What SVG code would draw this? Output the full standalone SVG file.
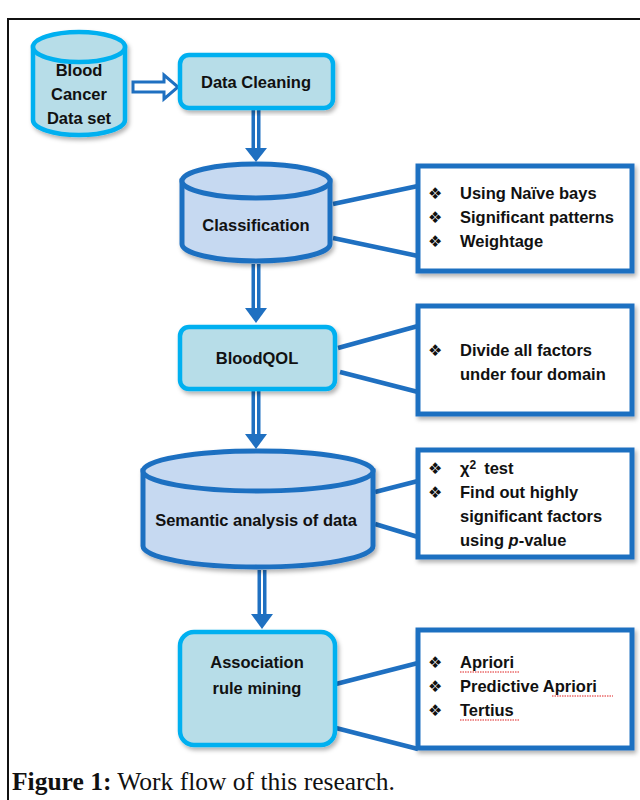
<svg xmlns="http://www.w3.org/2000/svg" width="640" height="800" viewBox="0 0 640 800">
<style>
.t{font-family:"Liberation Sans",Arial,sans-serif;font-weight:bold;font-size:16.5px;fill:#111;}
.c{text-anchor:middle;}
.b{font-family:"DejaVu Sans",sans-serif;font-size:16px;fill:#111;}
.cyan{fill:#b7dde8;stroke:#00b0f0;stroke-width:4.5;}
.cyl{fill:#c6d9f1;stroke:#1f70c1;stroke-width:5;}
.box{fill:#fff;stroke:#1f70c1;stroke-width:5;}
.ln{stroke:#1f70c1;stroke-width:4.5;fill:none;}
.sq{stroke:#e02020;stroke-width:1;fill:none;stroke-dasharray:1.5 1;}
.cap{font-family:"Liberation Serif","Times New Roman",serif;font-size:25.5px;fill:#111;}
</style>
<defs>
<filter id="sh" x="-10%" y="-10%" width="125%" height="125%">
<feDropShadow dx="2" dy="3" stdDeviation="2" flood-color="#000" flood-opacity="0.3"/>
</filter>
</defs>
<rect width="640" height="800" fill="#fff"/>
<path d="M8,800 L8,19 L640,19" fill="none" stroke="#111" stroke-width="2"/>

<g id="connectors">
<path d="M133,82 L164,82 L164,75 L178,87 L164,99 L164,92 L133,92 Z" fill="#fff" stroke="#1f70c1" stroke-width="3"/>
<g id="a1">
<rect x="251.5" y="108" width="9" height="42" fill="#1f70c1"/>
<line x1="256" y1="108" x2="256" y2="150" stroke="#fff" stroke-width="2"/>
<path d="M245,148 L267,148 L256,162 Z" fill="#1f70c1"/>
</g>
<g id="a2">
<rect x="251.5" y="264" width="9" height="46" fill="#1f70c1"/>
<line x1="256" y1="264" x2="256" y2="310" stroke="#fff" stroke-width="2"/>
<path d="M245,308 L267,308 L256,323 Z" fill="#1f70c1"/>
</g>
<g id="a3">
<rect x="251.5" y="390" width="9" height="46" fill="#1f70c1"/>
<line x1="256" y1="390" x2="256" y2="436" stroke="#fff" stroke-width="2"/>
<path d="M245,434 L267,434 L256,449 Z" fill="#1f70c1"/>
</g>
<g id="a4">
<rect x="257.5" y="570" width="9" height="46" fill="#1f70c1"/>
<line x1="262" y1="570" x2="262" y2="616" stroke="#fff" stroke-width="2"/>
<path d="M251,614 L273,614 L262,629 Z" fill="#1f70c1"/>
</g>
<line class="ln" x1="333" y1="204" x2="418" y2="186"/>
<line class="ln" x1="333" y1="238" x2="418" y2="256"/>
<line class="ln" x1="338" y1="348" x2="418" y2="326"/>
<line class="ln" x1="340" y1="372" x2="418" y2="392"/>
<line class="ln" x1="375" y1="492" x2="418" y2="481"/>
<line class="ln" x1="375" y1="524" x2="418" y2="537"/>
<line class="ln" x1="332" y1="685" x2="418" y2="663"/>
<line class="ln" x1="332" y1="727" x2="418" y2="749"/>
</g>

<g id="blood">
<g filter="url(#sh)">
<path class="cyan" d="M33,47 L33,120 A46,15 0 0 0 125,120 L125,47 Z"/>
<ellipse class="cyan" cx="79" cy="47" rx="46" ry="15"/>
</g>
<text class="t c" x="79" y="76">Blood</text>
<text class="t c" x="79" y="100">Cancer</text>
<text class="t c" x="79" y="124">Data set</text>
</g>

<g id="cleaning">
<rect class="cyan" x="180" y="55" width="153" height="53" rx="9" filter="url(#sh)"/>
<text class="t c" x="256" y="88">Data Cleaning</text>
</g>

<g id="classification">
<g filter="url(#sh)">
<path class="cyl" d="M182,181 L182,244 A74,17 0 0 0 330,244 L330,181 Z"/>
<ellipse class="cyl" cx="256" cy="181" rx="74" ry="17"/>
</g>
<text class="t c" x="256" y="231">Classification</text>
</g>

<g id="box1">
<rect class="box" x="418" y="166" width="214" height="105" filter="url(#sh)"/>
<text class="b" x="428" y="199">❖</text><text class="t" x="460" y="199">Using Naïve bays</text>
<text class="b" x="428" y="223">❖</text><text class="t" x="460" y="223">Significant patterns</text>
<text class="b" x="428" y="247">❖</text><text class="t" x="460" y="247">Weightage</text>
</g>

<g id="bloodqol">
<rect class="cyan" x="180" y="327" width="155" height="62" rx="9" filter="url(#sh)"/>
<text class="t c" x="257" y="364">BloodQOL</text>
</g>

<g id="box2">
<rect class="box" x="418" y="306" width="214" height="108" filter="url(#sh)"/>
<text class="b" x="428" y="356">❖</text><text class="t" x="460" y="356">Divide all factors</text>
<text class="t" x="460" y="380">under four domain</text>
</g>

<g id="semantic">
<g filter="url(#sh)">
<path class="cyl" d="M143,471 L143,546 A115,21 0 0 0 373,546 L373,471 Z"/>
<ellipse class="cyl" cx="258" cy="471" rx="115" ry="20"/>
</g>
<text class="t c" x="256" y="526">Semantic analysis of data</text>
</g>

<g id="box3">
<rect class="box" x="418" y="450" width="214" height="107" filter="url(#sh)"/>
<text class="b" x="428" y="474">❖</text><text class="t" x="460" y="474">χ<tspan dy="-5" font-size="12">2</tspan><tspan dy="5" dx="8">test</tspan></text>
<text class="b" x="428" y="498">❖</text><text class="t" x="460" y="498">Find out highly</text>
<text class="t" x="460" y="522">significant factors</text>
<text class="t" x="460" y="546">using <tspan font-style="italic">p</tspan>-value</text>
</g>

<g id="association">
<rect class="cyan" x="180" y="632" width="155" height="113" rx="14" filter="url(#sh)"/>
<text class="t c" x="257" y="668">Association</text>
<text class="t c" x="257" y="694">rule mining</text>
</g>

<g id="box4">
<rect class="box" x="418" y="630" width="214" height="118" filter="url(#sh)"/>
<text class="b" x="428" y="668">❖</text><text class="t" x="460" y="668">Apriori</text>
<text class="b" x="428" y="692">❖</text><text class="t" x="460" y="692">Predictive Apriori</text>
<text class="b" x="428" y="716">❖</text><text class="t" x="460" y="716">Tertius</text>
<path class="sq" d="M460,672 L520,672"/>
<path class="sq" d="M552,696 L613,696"/>
<path class="sq" d="M460,720 L519,720"/>
</g>

<text class="cap" x="12" y="790"><tspan font-weight="bold">Figure 1:</tspan> Work flow of this research.</text>
</svg>
